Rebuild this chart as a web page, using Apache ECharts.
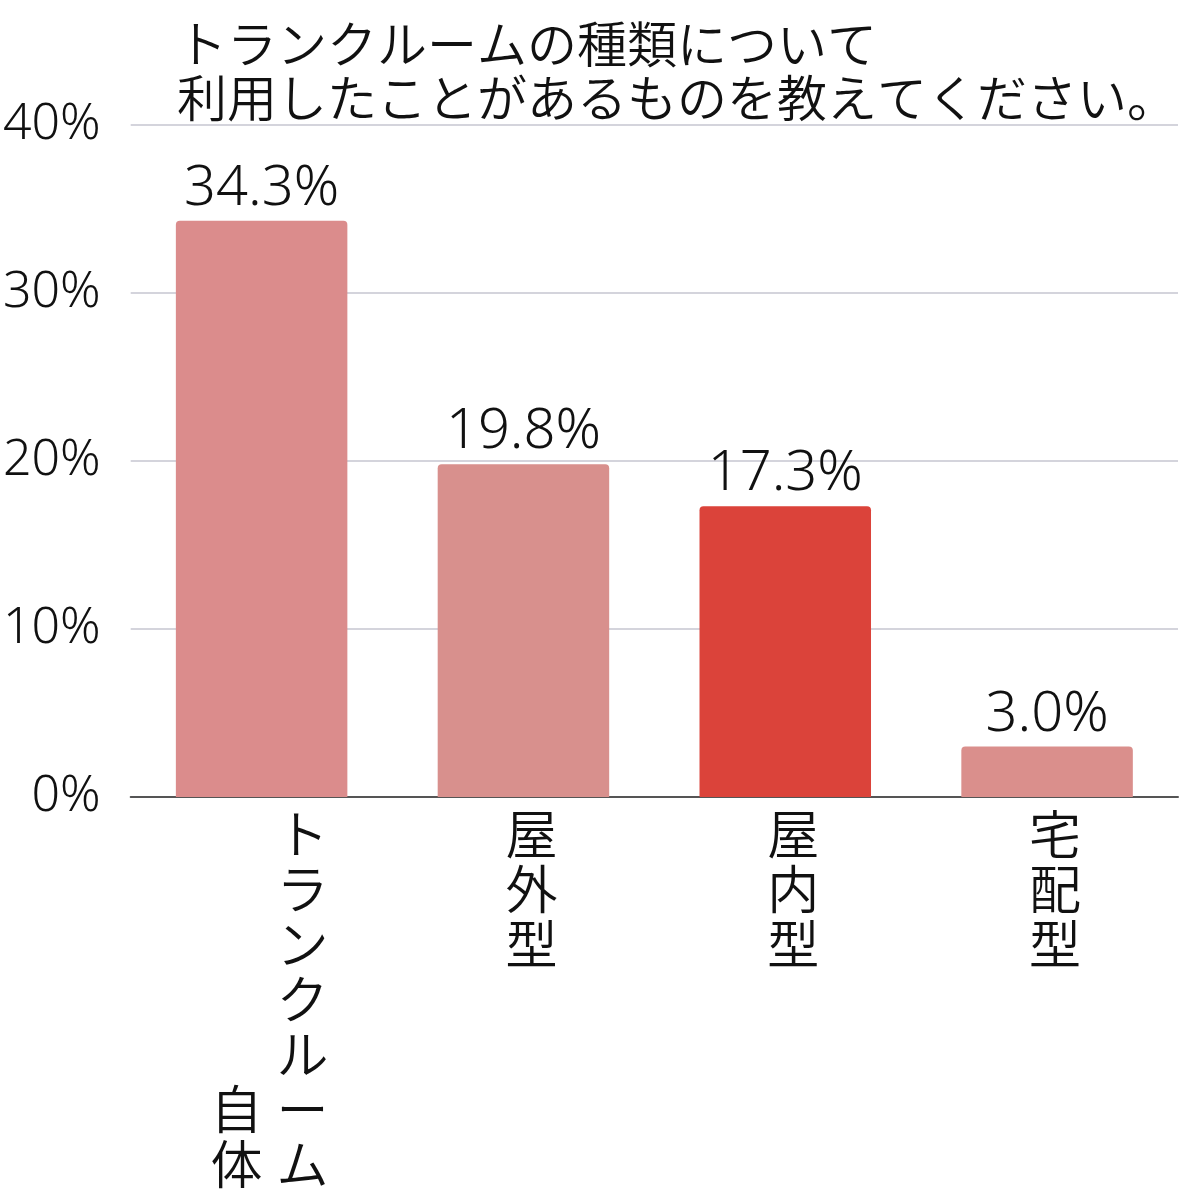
<!DOCTYPE html>
<html>
<head>
<meta charset="UTF-8">
<title>トランクルームの種類</title>
<script src="https://cdn.jsdelivr.net/npm/echarts@6/dist/echarts.min.js"></script>
<style>
  html, body { margin: 0; height: 100%; background: #fff; }
  #main { width: 1200px; height: 1200px; }
</style>
</head>
<body>
<div id="main"></div>
<script>
// categories: '\n' starts a new vertical column (read right to left)
var categories = ['トランクルーム\n自体', '屋外型', '屋内型', '宅配型'];
var values = [34.3, 19.8, 17.3, 3.0];
var barColors = ['#DB8C8C', '#D8908D', '#DB433A', '#DA8F8C'];
var yTicks = { min: 0, max: 40, interval: 10 };
var titleText = 'トランクルームの種類について\n利用したことがあるものを教えてください。';

var font = '"Noto Sans CJK JP", "Noto Sans", sans-serif';
var numFont = '"Noto Sans", "Noto Sans CJK JP", sans-serif';

// build vertical text, columns bottom-aligned, first column on the right
function verticalLabel(name) {
  var cols = name.split('\n').map(function (s) { return Array.from(s); });
  var rows = Math.max.apply(null, cols.map(function (c) { return c.length; }));
  var lines = [];
  for (var r = 0; r < rows; r++) {
    var line = '';
    for (var k = cols.length - 1; k >= 0; k--) {
      var col = cols[k];
      var idx = r - (rows - col.length);
      var ch = idx >= 0 ? col[idx] : '　';
      line += '{c|' + ch + '}';
    }
    lines.push(line);
  }
  return lines.join('\n');
}

var chart = echarts.init(document.getElementById('main'));
var option = {
  backgroundColor: '#fff',
  textStyle: { fontFamily: font },
  title: {
    text: titleText,
    left: 172,
    top: 12,
    textStyle: {
      fontFamily: font,
      fontSize: 50,
      fontWeight: 350,
      color: '#111',
      lineHeight: 54
    }
  },
  grid: { left: 130, right: 22, top: 125, bottom: 403 },
  xAxis: {
    type: 'category',
    data: categories,
    axisLine: { lineStyle: { color: '#555', width: 2 } },
    axisTick: { show: false },
    axisLabel: {
      interval: 0,
      margin: 10,
      padding: [0, 0, 0, 16],
      formatter: verticalLabel,
      rich: {
        c: {
          fontFamily: font,
          fontSize: 52,
          fontWeight: 350,
          lineHeight: 55,
          width: 66,
          align: 'center',
          color: '#111'
        }
      }
    }
  },
  yAxis: {
    type: 'value',
    min: yTicks.min,
    max: yTicks.max,
    interval: yTicks.interval,
    axisLine: { show: false },
    axisTick: { show: false },
    axisLabel: {
      formatter: '{value}%',
      fontFamily: numFont,
      fontSize: 50,
      fontWeight: 350,
      color: '#111',
      margin: 30
    },
    splitLine: { lineStyle: { color: '#d4d4dc', width: 2 } }
  },
  series: [{
    type: 'bar',
    data: values.map(function (v, i) {
      return { value: v, itemStyle: { color: barColors[i] } };
    }),
    barWidth: '65.5%',
    itemStyle: { borderRadius: [4, 4, 0, 0] },
    label: {
      show: true,
      position: 'top',
      distance: 4,
      fontFamily: numFont,
      fontSize: 56,
      fontWeight: 350,
      color: '#111',
      formatter: function (p) { return p.value.toFixed(1) + '%'; }
    }
  }]
};
chart.setOption(option);
</script>
</body>
</html>
